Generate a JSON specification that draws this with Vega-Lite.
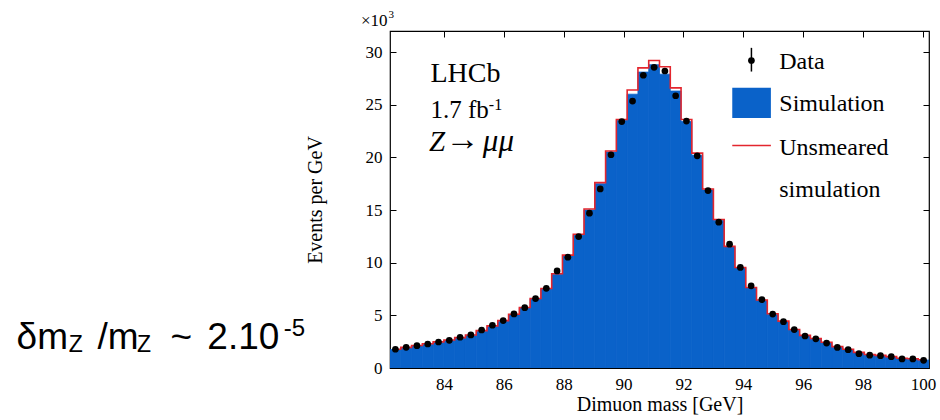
{
  "$schema": "https://vega.github.io/schema/vega-lite/v6.json",
  "autosize": {"type": "none"},
  "padding": {"left": 390, "top": 31, "right": 11, "bottom": 52},
  "width": 539,
  "height": 337,
  "background": "white",
  "config": {
    "view": {"stroke": "black", "strokeWidth": 1.2},
    "axis": {"labelFont": "Liberation Serif", "titleFont": "Liberation Serif", "labelColor": "black", "titleColor": "black", "tickColor": "black", "domain": false, "grid": false, "labelFontSize": 17, "titleFontSize": 20, "titleFontWeight": "normal"},
    "text": {"color": "black", "align": "left", "baseline": "alphabetic"}
  },
  "datasets": {
    "one": [{}],
    "hist": [
    {"lo": 82.20, "hi": 82.56, "m": 82.38, "data": 1.78, "sim": 1.75, "unsm": 1.78},
    {"lo": 82.56, "hi": 82.92, "m": 82.74, "data": 1.96, "sim": 1.93, "unsm": 1.96},
    {"lo": 82.92, "hi": 83.28, "m": 83.10, "data": 2.12, "sim": 2.10, "unsm": 2.13},
    {"lo": 83.28, "hi": 83.64, "m": 83.46, "data": 2.28, "sim": 2.27, "unsm": 2.30},
    {"lo": 83.64, "hi": 84.00, "m": 83.82, "data": 2.47, "sim": 2.45, "unsm": 2.48},
    {"lo": 84.00, "hi": 84.36, "m": 84.18, "data": 2.63, "sim": 2.62, "unsm": 2.66},
    {"lo": 84.36, "hi": 84.72, "m": 84.54, "data": 2.92, "sim": 2.85, "unsm": 2.88},
    {"lo": 84.72, "hi": 85.08, "m": 84.90, "data": 3.14, "sim": 3.10, "unsm": 3.14},
    {"lo": 85.08, "hi": 85.44, "m": 85.26, "data": 3.61, "sim": 3.50, "unsm": 3.55},
    {"lo": 85.44, "hi": 85.80, "m": 85.62, "data": 4.06, "sim": 3.95, "unsm": 4.00},
    {"lo": 85.80, "hi": 86.16, "m": 85.98, "data": 4.50, "sim": 4.45, "unsm": 4.50},
    {"lo": 86.16, "hi": 86.52, "m": 86.34, "data": 5.13, "sim": 5.05, "unsm": 5.10},
    {"lo": 86.52, "hi": 86.88, "m": 86.70, "data": 5.73, "sim": 5.70, "unsm": 5.75},
    {"lo": 86.88, "hi": 87.24, "m": 87.06, "data": 6.59, "sim": 6.55, "unsm": 6.60},
    {"lo": 87.24, "hi": 87.60, "m": 87.42, "data": 7.57, "sim": 7.50, "unsm": 7.55},
    {"lo": 87.60, "hi": 87.96, "m": 87.78, "data": 9.22, "sim": 8.90, "unsm": 8.95},
    {"lo": 87.96, "hi": 88.32, "m": 88.14, "data": 10.52, "sim": 10.65, "unsm": 10.72},
    {"lo": 88.32, "hi": 88.68, "m": 88.50, "data": 12.48, "sim": 12.60, "unsm": 12.70},
    {"lo": 88.68, "hi": 89.04, "m": 88.86, "data": 14.70, "sim": 15.00, "unsm": 15.10},
    {"lo": 89.04, "hi": 89.40, "m": 89.22, "data": 17.00, "sim": 17.50, "unsm": 17.60},
    {"lo": 89.40, "hi": 89.76, "m": 89.58, "data": 20.25, "sim": 20.50, "unsm": 20.60},
    {"lo": 89.76, "hi": 90.12, "m": 89.94, "data": 23.40, "sim": 23.50, "unsm": 23.60},
    {"lo": 90.12, "hi": 90.48, "m": 90.30, "data": 25.35, "sim": 26.00, "unsm": 26.40},
    {"lo": 90.48, "hi": 90.84, "m": 90.66, "data": 27.80, "sim": 28.10, "unsm": 28.50},
    {"lo": 90.84, "hi": 91.20, "m": 91.02, "data": 28.55, "sim": 28.80, "unsm": 29.20},
    {"lo": 91.20, "hi": 91.56, "m": 91.38, "data": 28.20, "sim": 27.90, "unsm": 28.60},
    {"lo": 91.56, "hi": 91.92, "m": 91.74, "data": 25.85, "sim": 26.30, "unsm": 26.60},
    {"lo": 91.92, "hi": 92.28, "m": 92.10, "data": 23.45, "sim": 23.40, "unsm": 23.60},
    {"lo": 92.28, "hi": 92.64, "m": 92.46, "data": 20.15, "sim": 20.20, "unsm": 20.40},
    {"lo": 92.64, "hi": 93.00, "m": 92.82, "data": 16.85, "sim": 16.90, "unsm": 17.00},
    {"lo": 93.00, "hi": 93.36, "m": 93.18, "data": 13.85, "sim": 14.00, "unsm": 14.10},
    {"lo": 93.36, "hi": 93.72, "m": 93.54, "data": 11.76, "sim": 11.50, "unsm": 11.55},
    {"lo": 93.72, "hi": 94.08, "m": 93.90, "data": 9.55, "sim": 9.50, "unsm": 9.55},
    {"lo": 94.08, "hi": 94.44, "m": 94.26, "data": 7.80, "sim": 7.60, "unsm": 7.65},
    {"lo": 94.44, "hi": 94.80, "m": 94.62, "data": 6.50, "sim": 6.40, "unsm": 6.45},
    {"lo": 94.80, "hi": 95.16, "m": 94.98, "data": 5.12, "sim": 5.10, "unsm": 5.15},
    {"lo": 95.16, "hi": 95.52, "m": 95.34, "data": 4.40, "sim": 4.40, "unsm": 4.45},
    {"lo": 95.52, "hi": 95.88, "m": 95.70, "data": 3.65, "sim": 3.60, "unsm": 3.65},
    {"lo": 95.88, "hi": 96.24, "m": 96.06, "data": 3.04, "sim": 3.05, "unsm": 3.10},
    {"lo": 96.24, "hi": 96.60, "m": 96.42, "data": 2.77, "sim": 2.75, "unsm": 2.80},
    {"lo": 96.60, "hi": 96.96, "m": 96.78, "data": 2.37, "sim": 2.40, "unsm": 2.45},
    {"lo": 96.96, "hi": 97.32, "m": 97.14, "data": 1.95, "sim": 2.00, "unsm": 2.03},
    {"lo": 97.32, "hi": 97.68, "m": 97.50, "data": 1.74, "sim": 1.75, "unsm": 1.78},
    {"lo": 97.68, "hi": 98.04, "m": 97.86, "data": 1.36, "sim": 1.45, "unsm": 1.48},
    {"lo": 98.04, "hi": 98.40, "m": 98.22, "data": 1.22, "sim": 1.25, "unsm": 1.28},
    {"lo": 98.40, "hi": 98.76, "m": 98.58, "data": 1.17, "sim": 1.17, "unsm": 1.20},
    {"lo": 98.76, "hi": 99.12, "m": 98.94, "data": 1.08, "sim": 1.05, "unsm": 1.08},
    {"lo": 99.12, "hi": 99.48, "m": 99.30, "data": 0.86, "sim": 0.90, "unsm": 0.93},
    {"lo": 99.48, "hi": 99.84, "m": 99.66, "data": 0.86, "sim": 0.85, "unsm": 0.88},
    {"lo": 99.84, "hi": 100.20, "m": 100.02, "data": 0.73, "sim": 0.75, "unsm": 0.78}
  ]},
  "data": {"name": "hist"},
  "resolve": {"axis": {"x": "independent", "y": "independent"}},
  "layer": [
    {
      "mark": {"type": "rect", "color": "#0a62c9", "stroke": "#0a62c9", "strokeWidth": 0.8, "clip": true},
      "encoding": {
        "x": {"field": "lo", "type": "quantitative", "scale": {"domain": [82.2, 100.2], "nice": false, "zero": false},
              "axis": {"orient": "bottom", "values": [84, 86, 88, 90, 92, 94, 96, 98, 100], "tickSize": -6, "labelPadding": 14, "title": "Dimuon mass [GeV]", "titlePadding": 2}},
        "x2": {"field": "hi"},
        "y": {"field": "sim", "type": "quantitative", "scale": {"domain": [0, 32], "nice": false},
              "axis": {"orient": "left", "values": [0, 5, 10, 15, 20, 25, 30], "tickSize": -6, "labelPadding": 14, "title": "Events per GeV", "titlePadding": 40}},
        "y2": {"datum": 0}
      }
    },
    {
      "mark": {"type": "line", "color": "#e3262e", "strokeWidth": 1.6, "interpolate": "step", "clip": true},
      "encoding": {
        "x": {"field": "m", "type": "quantitative", "axis": {"orient": "top", "values": [84, 86, 88, 90, 92, 94, 96, 98, 100], "tickSize": -6, "labels": false, "title": null}},
        "y": {"field": "unsm", "type": "quantitative", "axis": {"orient": "right", "values": [0, 5, 10, 15, 20, 25, 30], "tickSize": -6, "labels": false, "title": null}}
      }
    },
    {
      "mark": {"type": "circle", "color": "black", "opacity": 1, "size": 45},
      "encoding": {
        "x": {"field": "m", "type": "quantitative", "axis": null},
        "y": {"field": "data", "type": "quantitative", "axis": null}
      }
    },
    {
      "data": {"name": "one"},
      "mark": {"type": "rule", "color": "black", "strokeWidth": 1.5},
      "encoding": {"x": {"datum": 94.27, "type": "quantitative", "axis": null}, "y": {"datum": 30.4, "type": "quantitative", "axis": null}, "y2": {"datum": 28.15}}
    },
    {
      "data": {"name": "one"},
      "mark": {"type": "circle", "color": "black", "opacity": 1, "size": 45},
      "encoding": {"x": {"datum": 94.27, "type": "quantitative", "axis": null}, "y": {"datum": 29.2, "type": "quantitative", "axis": null}}
    },
    {
      "data": {"name": "one"},
      "mark": {"type": "rect", "color": "#0a62c9"},
      "encoding": {"x": {"datum": 93.63, "type": "quantitative", "axis": null}, "x2": {"datum": 94.92}, "y": {"datum": 26.6, "type": "quantitative", "axis": null}, "y2": {"datum": 23.75}}
    },
    {
      "data": {"name": "one"},
      "mark": {"type": "rule", "color": "#e3262e", "strokeWidth": 1.6},
      "encoding": {"x": {"datum": 93.63, "type": "quantitative", "axis": null}, "x2": {"datum": 94.92}, "y": {"datum": 21.13, "type": "quantitative", "axis": null}}
    },
    {
      "data": {"name": "one"},
      "mark": {"type": "text", "text": "Data", "font": "Liberation Serif", "fontSize": 24},
      "encoding": {"x": {"datum": 95.2, "type": "quantitative", "axis": null}, "y": {"datum": 28.42, "type": "quantitative", "axis": null}}
    },
    {
      "data": {"name": "one"},
      "mark": {"type": "text", "text": "Simulation", "font": "Liberation Serif", "fontSize": 24},
      "encoding": {"x": {"datum": 95.2, "type": "quantitative", "axis": null}, "y": {"datum": 24.37, "type": "quantitative", "axis": null}}
    },
    {
      "data": {"name": "one"},
      "mark": {"type": "text", "text": "Unsmeared", "font": "Liberation Serif", "fontSize": 24},
      "encoding": {"x": {"datum": 95.2, "type": "quantitative", "axis": null}, "y": {"datum": 20.25, "type": "quantitative", "axis": null}}
    },
    {
      "data": {"name": "one"},
      "mark": {"type": "text", "text": "simulation", "font": "Liberation Serif", "fontSize": 24},
      "encoding": {"x": {"datum": 95.2, "type": "quantitative", "axis": null}, "y": {"datum": 16.28, "type": "quantitative", "axis": null}}
    },
    {
      "data": {"name": "one"},
      "mark": {"type": "text", "text": "LHCb", "font": "Liberation Serif", "fontSize": 28},
      "encoding": {"x": {"datum": 83.55, "type": "quantitative", "axis": null}, "y": {"datum": 27.12, "type": "quantitative", "axis": null}}
    },
    {
      "data": {"name": "one"},
      "mark": {"type": "text", "text": "1.7 fb", "font": "Liberation Serif", "fontSize": 25},
      "encoding": {"x": {"datum": 83.55, "type": "quantitative", "axis": null}, "y": {"datum": 23.74, "type": "quantitative", "axis": null}}
    },
    {
      "data": {"name": "one"},
      "mark": {"type": "text", "text": "-1", "font": "Liberation Serif", "fontSize": 16},
      "encoding": {"x": {"datum": 85.5, "type": "quantitative", "axis": null}, "y": {"datum": 24.5, "type": "quantitative", "axis": null}}
    },
    {
      "data": {"name": "one"},
      "mark": {"type": "text", "text": "Z", "font": "Liberation Serif", "fontSize": 29, "fontStyle": "italic"},
      "encoding": {"x": {"datum": 83.5, "type": "quantitative", "axis": null}, "y": {"datum": 20.56, "type": "quantitative", "axis": null}}
    },
    {
      "data": {"name": "one"},
      "mark": {"type": "text", "text": "→", "font": "Liberation Serif", "fontSize": 34},
      "encoding": {"x": {"datum": 84.05, "type": "quantitative", "axis": null}, "y": {"datum": 20.7, "type": "quantitative", "axis": null}}
    },
    {
      "data": {"name": "one"},
      "mark": {"type": "text", "text": "μμ", "font": "Liberation Serif", "fontSize": 31, "fontStyle": "italic"},
      "encoding": {"x": {"datum": 85.3, "type": "quantitative", "axis": null}, "y": {"datum": 20.56, "type": "quantitative", "axis": null}}
    },
    {
      "data": {"name": "one"},
      "mark": {"type": "text", "text": "×10", "font": "Liberation Serif", "fontSize": 17},
      "encoding": {"x": {"datum": 81.23, "type": "quantitative", "axis": null}, "y": {"datum": 32.44, "type": "quantitative", "axis": null}}
    },
    {
      "data": {"name": "one"},
      "mark": {"type": "text", "text": "3", "font": "Liberation Serif", "fontSize": 11},
      "encoding": {"x": {"datum": 82.15, "type": "quantitative", "axis": null}, "y": {"datum": 33.2, "type": "quantitative", "axis": null}}
    },
    {
      "data": {"name": "one"},
      "mark": {"type": "text", "text": "δm", "font": "Liberation Sans", "fontSize": 37},
      "encoding": {"x": {"datum": 69.73, "type": "quantitative", "axis": null}, "y": {"datum": 1.78, "type": "quantitative", "axis": null}}
    },
    {
      "data": {"name": "one"},
      "mark": {"type": "text", "text": "Z", "font": "Liberation Sans", "fontSize": 23},
      "encoding": {"x": {"datum": 71.47, "type": "quantitative", "axis": null}, "y": {"datum": 1.55, "type": "quantitative", "axis": null}}
    },
    {
      "data": {"name": "one"},
      "mark": {"type": "text", "text": "/m", "font": "Liberation Sans", "fontSize": 37},
      "encoding": {"x": {"datum": 72.43, "type": "quantitative", "axis": null}, "y": {"datum": 1.78, "type": "quantitative", "axis": null}}
    },
    {
      "data": {"name": "one"},
      "mark": {"type": "text", "text": "Z", "font": "Liberation Sans", "fontSize": 23},
      "encoding": {"x": {"datum": 73.75, "type": "quantitative", "axis": null}, "y": {"datum": 1.55, "type": "quantitative", "axis": null}}
    },
    {
      "data": {"name": "one"},
      "mark": {"type": "text", "text": "~", "font": "Liberation Sans", "fontSize": 37},
      "encoding": {"x": {"datum": 74.87, "type": "quantitative", "axis": null}, "y": {"datum": 1.78, "type": "quantitative", "axis": null}}
    },
    {
      "data": {"name": "one"},
      "mark": {"type": "text", "text": "2.10", "font": "Liberation Sans", "fontSize": 37},
      "encoding": {"x": {"datum": 76.1, "type": "quantitative", "axis": null}, "y": {"datum": 1.78, "type": "quantitative", "axis": null}}
    },
    {
      "data": {"name": "one"},
      "mark": {"type": "text", "text": "-5", "font": "Liberation Sans", "fontSize": 24},
      "encoding": {"x": {"datum": 78.65, "type": "quantitative", "axis": null}, "y": {"datum": 3.0, "type": "quantitative", "axis": null}}
    }
  ]
}
